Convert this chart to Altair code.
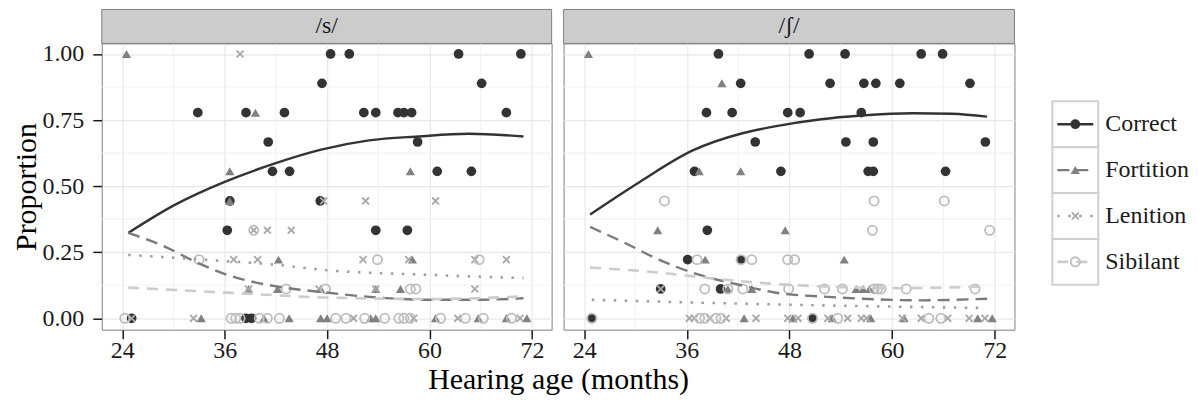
import altair as alt
import pandas as pd

FONT = "Liberation Serif"
cats = ["Correct", "Fortition", "Lenition", "Sibilant"]
panels = ["/s/", "/ʃ/"]
x_ticks = [24, 36, 48, 60, 72]
y_ticks = [0.0, 0.25, 0.5, 0.75, 1.0]
x_minor = [30, 42, 54, 66]
y_minor = [0.125, 0.375, 0.625, 0.875]

# ---------------- /s/ points ----------------
s_correct_x = [48.4, 50.6, 63.4, 70.7, 47.4, 66.1, 32.85, 38.5, 43.0, 52.3, 53.7, 56.3, 57.0, 57.9, 69.0,
               41.1, 58.6, 41.6, 43.6, 60.9, 64.9, 36.6, 47.2, 36.3, 53.7, 57.4, 25.1, 38.5, 39.15]
s_correct_y = [1, 1, 1, 1, 0.889, 0.889, 0.778, 0.778, 0.778, 0.778, 0.778, 0.778, 0.778, 0.778, 0.778,
               0.667, 0.667, 0.556, 0.556, 0.556, 0.556, 0.444, 0.444, 0.333, 0.333, 0.333, 0, 0, 0]
s_fort_x = [24.5, 39.6, 36.6, 57.75, 36.6, 42.3, 58.0, 38.8, 42.2, 47.25, 53.7, 56.6,
            33.25, 40.6, 43.55, 47.25, 48.0, 53.1, 53.7, 60.7, 65.7, 69.0, 71.4]
s_fort_y = [1, 0.778, 0.556, 0.556, 0.444, 0.222, 0.222, 0.111, 0.111, 0.111, 0.111, 0.111,
            0, 0, 0, 0, 0, 0, 0, 0, 0, 0, 0]
s_len_x = [37.8, 47.6, 52.5, 60.7, 39.4, 41.0, 43.8, 37.05, 39.85, 52.2, 57.55, 65.3, 69.0,
           38.8, 47.05, 53.7, 65.3, 25.1, 32.35, 51.1, 58.15, 63.3, 70.6]
s_len_y = [1, 0.444, 0.444, 0.444, 0.333, 0.333, 0.333, 0.222, 0.222, 0.222, 0.222, 0.222, 0.222,
           0.111, 0.111, 0.111, 0.111, 0, 0, 0, 0, 0, 0]
s_sib_x = [39.4, 33.0, 53.9, 65.8, 43.2, 47.8, 57.75, 58.4,
           24.3, 36.75, 37.3, 37.8, 40.05, 41.0, 42.4, 49.0, 50.2, 52.4, 54.75, 56.4, 57.0, 57.75,
           61.3, 64.2, 66.3, 69.6]
s_sib_y = [0.333, 0.222, 0.222, 0.222, 0.111, 0.111, 0.111, 0.111,
           0, 0, 0, 0, 0, 0, 0, 0, 0, 0, 0, 0, 0, 0, 0, 0, 0, 0]

# ---------------- /ʃ/ points ----------------
sh_correct_x = [39.7, 50.3, 54.5, 63.4, 65.9, 42.3, 52.75, 56.7, 58.1, 60.9, 69.1,
                38.3, 41.3, 47.8, 49.25, 56.4, 44.0, 54.6, 57.8, 70.9,
                36.9, 47.0, 57.2, 57.8, 66.25, 38.4, 36.1, 42.35, 32.95, 39.95, 24.9, 50.7]
sh_correct_y = [1, 1, 1, 1, 1, 0.889, 0.889, 0.889, 0.889, 0.889, 0.889,
                0.778, 0.778, 0.778, 0.778, 0.778, 0.667, 0.667, 0.667, 0.667,
                0.556, 0.556, 0.556, 0.556, 0.556, 0.333, 0.222, 0.222, 0.111, 0.111, 0, 0]
sh_fort_x = [24.5, 40.1, 37.45, 42.3, 32.6, 47.5, 38.15, 54.4, 43.6, 55.8, 56.6, 57.35, 40.8,
             42.7, 48.4, 53.0, 57.5, 61.4, 70.0, 71.7]
sh_fort_y = [1, 0.889, 0.556, 0.556, 0.333, 0.333, 0.222, 0.222, 0.111, 0.111, 0.111, 0.111, 0.111,
             0, 0, 0, 0, 0, 0, 0]
sh_len_x = [32.95, 36.3, 36.9, 38.7, 40.6, 44.1, 47.8, 49.0, 52.5, 54.8, 56.4, 57.0, 61.2, 63.4,
            66.5, 69.0, 70.85]
sh_len_y = [0.111, 0, 0, 0, 0, 0, 0, 0, 0, 0, 0, 0, 0, 0, 0, 0, 0]
sh_sib_x = [33.4, 57.9, 66.1, 57.7, 71.4, 37.2, 42.35, 43.6, 47.8, 48.6,
            38.1, 40.8, 42.55, 47.9, 52.1, 54.2, 57.9, 58.3, 58.7, 61.65, 69.7,
            24.9, 37.5, 38.1, 39.4, 40.0, 50.7, 53.65, 64.3, 65.7]
sh_sib_y = [0.444, 0.444, 0.444, 0.333, 0.333, 0.222, 0.222, 0.222, 0.222, 0.222,
            0.111, 0.111, 0.111, 0.111, 0.111, 0.111, 0.111, 0.111, 0.111, 0.111, 0.111,
            0, 0, 0, 0, 0, 0, 0, 0, 0]

# ---------------- smooth curves ----------------
s_correct_cx = [24.7, 30.1, 36.0, 41.8, 47.3, 52.9, 58.7, 64.6, 71.0]
s_correct_cy = [0.323, 0.428, 0.516, 0.585, 0.638, 0.673, 0.688, 0.698, 0.688]
s_fort_cx = [24.7, 28.6, 32.5, 36.35, 42.2, 47.25, 53.7, 60.3, 65.35, 71.0]
s_fort_cy = [0.323, 0.277, 0.215, 0.164, 0.12, 0.10, 0.079, 0.070, 0.070, 0.076]
s_len_cx = [24.7, 32.85, 42.2, 47.6, 60.3, 71.0]
s_len_cy = [0.240, 0.223, 0.202, 0.183, 0.164, 0.152]
s_sib_cx = [24.7, 36.35, 47.6, 60.3, 71.0]
s_sib_cy = [0.116, 0.097, 0.079, 0.073, 0.083]

sh_correct_cx = [24.7, 30.5, 36.7, 42.5, 46.8, 51.5, 56.4, 62.4, 67.0, 71.1]
sh_correct_cy = [0.393, 0.516, 0.635, 0.700, 0.729, 0.752, 0.767, 0.776, 0.774, 0.763]
sh_fort_cx = [24.7, 28.9, 32.8, 37.5, 42.1, 46.8, 52.0, 57.3, 63.2, 71.1]
sh_fort_cy = [0.346, 0.283, 0.221, 0.164, 0.127, 0.095, 0.082, 0.073, 0.068, 0.074]
sh_len_cx = [24.9, 47.0, 70.9]
sh_len_cy = [0.070, 0.052, 0.039]
sh_sib_cx = [24.7, 32.8, 38.6, 46.8, 54.0, 61.2, 70.5]
sh_sib_cy = [0.192, 0.173, 0.152, 0.129, 0.118, 0.114, 0.120]

# ---------------- assemble ----------------
point_sets = {
    ("/s/", "Correct"): (s_correct_x, s_correct_y),
    ("/s/", "Fortition"): (s_fort_x, s_fort_y),
    ("/s/", "Lenition"): (s_len_x, s_len_y),
    ("/s/", "Sibilant"): (s_sib_x, s_sib_y),
    ("/ʃ/", "Correct"): (sh_correct_x, sh_correct_y),
    ("/ʃ/", "Fortition"): (sh_fort_x, sh_fort_y),
    ("/ʃ/", "Lenition"): (sh_len_x, sh_len_y),
    ("/ʃ/", "Sibilant"): (sh_sib_x, sh_sib_y),
}
curve_sets = {
    ("/s/", "Correct"): (s_correct_cx, s_correct_cy),
    ("/s/", "Fortition"): (s_fort_cx, s_fort_cy),
    ("/s/", "Lenition"): (s_len_cx, s_len_cy),
    ("/s/", "Sibilant"): (s_sib_cx, s_sib_cy),
    ("/ʃ/", "Correct"): (sh_correct_cx, sh_correct_cy),
    ("/ʃ/", "Fortition"): (sh_fort_cx, sh_fort_cy),
    ("/ʃ/", "Lenition"): (sh_len_cx, sh_len_cy),
    ("/ʃ/", "Sibilant"): (sh_sib_cx, sh_sib_cy),
}

XPATH = "M-0.75,-0.75L0.75,0.75M0.75,-0.75L-0.75,0.75"
point_style = {
    "Correct": dict(shape="circle", filled=True, color="#333333", size=95, opacity=1),
    "Fortition": dict(shape="triangle-up", filled=True, color="#808080", size=85, opacity=1),
    "Lenition": dict(shape=XPATH, filled=False, color="#a8a8a8", size=85, strokeWidth=1.8, opacity=1),
    "Sibilant": dict(shape="circle", filled=False, color="#bdbdbd", size=85, strokeWidth=1.8, opacity=1),
}
line_style = {
    "Correct": dict(color="#333333", strokeWidth=2.4),
    "Fortition": dict(color="#7a7a7a", strokeWidth=2.4, strokeDash=[12, 7]),
    "Lenition": dict(color="#a0a0a0", strokeWidth=2.6, strokeDash=[2.5, 8.5]),
    "Sibilant": dict(color="#cccccc", strokeWidth=2.6, strokeDash=[11, 8]),
}

X_DOM = [21.6, 74.3]
Y_DOM = [-0.043, 1.04]
H = 287


def panel_chart(pname, width, first):
    xs = alt.Scale(domain=X_DOM, nice=False, zero=False)
    ys = alt.Scale(domain=Y_DOM, nice=False, zero=False)
    if first:
        xaxis = alt.Axis(values=x_ticks, title="Hearing age (months)", titleX=width + 6.5,
                         titleAnchor="middle", titleAlign="center", titlePadding=2)
        yaxis = alt.Axis(values=y_ticks, title="Proportion", format=".2f")
    else:
        xaxis = alt.Axis(values=x_ticks, title=None)
        yaxis = alt.Axis(values=y_ticks, title=None, labels=False, ticks=False)

    vgrid = alt.Chart(pd.DataFrame({"x": x_minor})).mark_rule(color="#f2f2f2", strokeWidth=1.2).encode(
        x=alt.X("x:Q", scale=xs, axis=xaxis))
    hgrid = alt.Chart(pd.DataFrame({"y": y_minor})).mark_rule(color="#f2f2f2", strokeWidth=1.2).encode(
        y=alt.Y("y:Q", scale=ys, axis=yaxis))
    layers = [vgrid, hgrid]
    for c in cats:
        px, py = point_sets[(pname, c)]
        df = pd.DataFrame({"x": px, "y": py})
        layers.append(alt.Chart(df).mark_point(**point_style[c]).encode(
            x=alt.X("x:Q", scale=xs, axis=xaxis), y=alt.Y("y:Q", scale=ys, axis=yaxis)))
    for c in cats:
        cx, cy = curve_sets[(pname, c)]
        df = pd.DataFrame({"x": cx, "y": cy})
        layers.append(alt.Chart(df).mark_line(interpolate="monotone", **line_style[c]).encode(
            x=alt.X("x:Q", scale=xs, axis=xaxis), y=alt.Y("y:Q", scale=ys, axis=yaxis)))
    strip_df = pd.DataFrame({"panel": [pname]})
    strip = alt.Chart(strip_df).mark_rect(fill="#cccccc", stroke="#7f7f7f", strokeWidth=1).encode(
        x=alt.value(0), x2=alt.value(width), y=alt.value(-34), y2=alt.value(0))
    strip_text = alt.Chart(strip_df).mark_text(font=FONT, fontSize=24, color="#1a1a1a",
                                               baseline="middle", align="center").encode(
        x=alt.value(width / 2), y=alt.value(-17), text="panel:N")
    layers += [strip, strip_text]
    return alt.layer(*layers).properties(width=width, height=H)


left = panel_chart("/s/", 451, True)
right = panel_chart("/ʃ/", 452, False)

# ---------------- legend ----------------
LX = 26  # gap between right panel and legend keys
leg_df = pd.DataFrame({"cat": cats})
yleg = alt.Y("cat:N", scale=alt.Scale(domain=cats, range=[58, 242], paddingInner=0, paddingOuter=0),
             axis=None)
leg_layers = [
    alt.Chart(leg_df).mark_rect(fill="white", stroke="#d0d0d0", strokeWidth=2).encode(
        x=alt.value(LX), x2=alt.value(LX + 46), y=yleg)
]
for c in cats:
    d = leg_df[leg_df.cat == c]
    leg_layers.append(alt.Chart(d).mark_rule(**line_style[c]).encode(
        x=alt.value(LX + 5), x2=alt.value(LX + 41), y=yleg))
    leg_layers.append(alt.Chart(d).mark_point(**point_style[c]).encode(x=alt.value(LX + 23), y=yleg))
leg_layers.append(alt.Chart(leg_df).mark_text(font=FONT, fontSize=24, align="left", baseline="middle",
                                              color="#1a1a1a").encode(
    x=alt.value(LX + 53), y=yleg, text="cat:N"))
legend = alt.layer(*leg_layers).properties(width=LX + 46, height=H,
                                           view=alt.ViewBackground(stroke="transparent"))

chart = alt.hconcat(left, right, legend, spacing=12, bounds="flush").properties(
    padding={"left": 3, "top": 0, "right": 0, "bottom": 0}
).configure_view(stroke="#7f7f7f", strokeWidth=1).configure_axis(
    labelFont=FONT, titleFont=FONT, labelFontSize=24, titleFontSize=30, labelColor="#1a1a1a",
    titleColor="#000000", titleFontWeight="normal", tickColor="#1a1a1a", tickSize=9, tickWidth=1.5,
    labelPadding=0, domain=False, gridColor="#e8e8e8", gridWidth=1.2
).configure_axisY(labelPadding=9, titlePadding=0)

chart.save("out.html", embed_options={"renderer": "svg", "actions": False})
